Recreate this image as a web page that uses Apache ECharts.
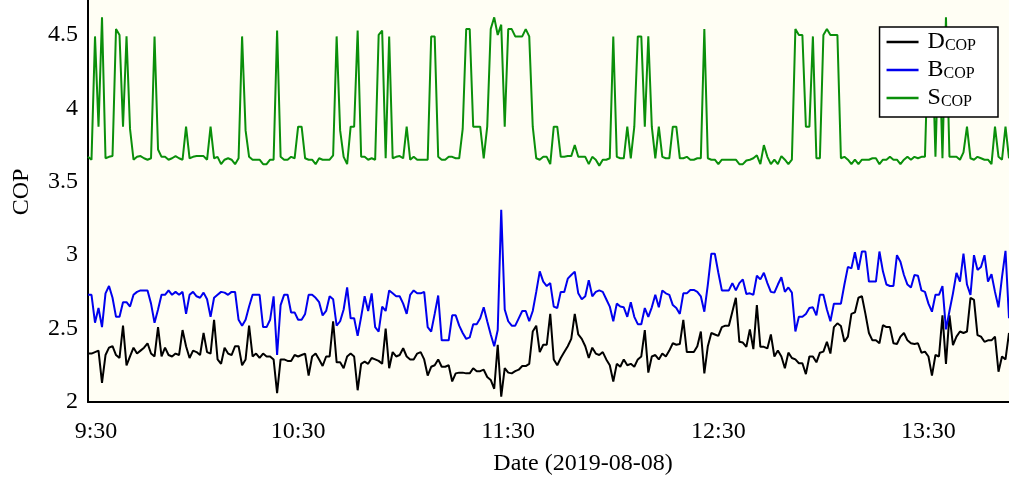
<!DOCTYPE html>
<html>
<head>
<meta charset="utf-8">
<script src="https://cdn.jsdelivr.net/npm/echarts@6/dist/echarts.min.js"></script>
<style>
  html, body { margin: 0; padding: 0; background: #ffffff; }
  #chart { width: 1009px; height: 477px; }
</style>
</head>
<body>
<div id="chart"></div>
<script>
// One sample per minute, starting at 9:30
const startMinute = 9 * 60 + 30;
const sampleCount = 264;
const times = [];
for (let i = 0; i < sampleCount; i++) {
  const t = startMinute + i;
  times.push(Math.floor(t / 60) + ':' + String(t % 60).padStart(2, '0'));
}
const tickTimes = ['9:30', '10:30', '11:30', '12:30', '13:30'];

const seriesNames = ['DCOP', 'BCOP', 'SCOP'];

const dcop = [
  2.33, 2.33, 2.34, 2.35, 2.13, 2.32, 2.37, 2.38, 2.32, 2.30,
  2.52, 2.25, 2.31, 2.37, 2.33, 2.35, 2.37, 2.40, 2.33, 2.31,
  2.51, 2.31, 2.37, 2.32, 2.31, 2.33, 2.32, 2.49, 2.38, 2.30,
  2.35, 2.34, 2.32, 2.47, 2.34, 2.33, 2.56, 2.29, 2.26, 2.37,
  2.33, 2.32, 2.38, 2.38, 2.25, 2.29, 2.52, 2.31, 2.33, 2.30,
  2.33, 2.31, 2.31, 2.29, 2.06, 2.29, 2.29, 2.28, 2.28, 2.32,
  2.31, 2.32, 2.33, 2.18, 2.31, 2.33, 2.29, 2.245, 2.31, 2.31,
  2.55, 2.27, 2.27, 2.23, 2.31, 2.33, 2.31, 2.08, 2.26, 2.275,
  2.26, 2.30, 2.29, 2.28, 2.26, 2.50, 2.23, 2.34, 2.31, 2.32,
  2.366, 2.31, 2.29, 2.29, 2.33, 2.34, 2.29, 2.18, 2.24, 2.25,
  2.29, 2.24, 2.24, 2.25, 2.14, 2.195, 2.20, 2.20, 2.195, 2.195,
  2.23, 2.21, 2.21, 2.22, 2.17, 2.15, 2.09, 2.39, 2.036, 2.23,
  2.20, 2.195, 2.21, 2.22, 2.245, 2.245, 2.26, 2.48, 2.52, 2.34,
  2.39, 2.39, 2.60, 2.29, 2.25, 2.30, 2.34, 2.38, 2.43, 2.60,
  2.46, 2.43, 2.38, 2.30, 2.37, 2.33, 2.32, 2.34, 2.29, 2.25,
  2.14, 2.26, 2.24, 2.29, 2.25, 2.26, 2.24, 2.29, 2.31, 2.49,
  2.20, 2.31, 2.32, 2.29, 2.33, 2.31, 2.35, 2.40, 2.39, 2.395,
  2.56, 2.34, 2.34, 2.34, 2.38, 2.48, 2.195, 2.38, 2.47, 2.46,
  2.45, 2.51, 2.52, 2.52, 2.615, 2.71, 2.41, 2.405, 2.376, 2.495,
  2.36, 2.66, 2.376, 2.376, 2.365, 2.46, 2.31, 2.35, 2.31, 2.23,
  2.336, 2.30, 2.29, 2.264, 2.264, 2.19, 2.31, 2.31, 2.27, 2.336,
  2.343, 2.41, 2.33, 2.51, 2.536, 2.518, 2.41, 2.445, 2.60, 2.61,
  2.71, 2.72, 2.60, 2.47, 2.42, 2.42, 2.40, 2.524, 2.51, 2.51,
  2.40, 2.395, 2.445, 2.47, 2.42, 2.40, 2.395, 2.40, 2.336, 2.343,
  2.31, 2.18, 2.32, 2.31, 2.59, 2.26, 2.59, 2.388, 2.445, 2.48,
  2.47, 2.48, 2.71, 2.695, 2.456, 2.445, 2.41, 2.42, 2.42, 2.445,
  2.206, 2.31, 2.29, 2.47
];

const bcop = [
  2.73, 2.73, 2.54, 2.64, 2.51, 2.74, 2.79, 2.71, 2.58, 2.58,
  2.68, 2.68, 2.65, 2.73, 2.75, 2.76, 2.76, 2.76, 2.67, 2.54,
  2.63, 2.73, 2.73, 2.76, 2.73, 2.75, 2.73, 2.75, 2.60, 2.73,
  2.75, 2.72, 2.71, 2.745, 2.70, 2.58, 2.71, 2.73, 2.75, 2.745,
  2.73, 2.75, 2.75, 2.56, 2.52, 2.56, 2.65, 2.73, 2.73, 2.73,
  2.51, 2.51, 2.56, 2.72, 2.32, 2.66, 2.73, 2.73, 2.61, 2.61,
  2.56, 2.56, 2.60, 2.73, 2.73, 2.71, 2.68, 2.59, 2.62, 2.72,
  2.70, 2.52, 2.55, 2.63, 2.78, 2.57, 2.57, 2.45, 2.58, 2.72,
  2.62, 2.74, 2.51, 2.48, 2.65, 2.62, 2.76, 2.74, 2.72, 2.72,
  2.67, 2.60, 2.73, 2.76, 2.74, 2.74, 2.75, 2.51, 2.48, 2.60,
  2.725, 2.42, 2.42, 2.42, 2.59, 2.59, 2.52, 2.47, 2.43, 2.44,
  2.53, 2.53, 2.57, 2.645, 2.55, 2.46, 2.38, 2.49, 3.31, 2.63,
  2.55, 2.52, 2.52, 2.57, 2.62, 2.62, 2.55, 2.62, 2.75, 2.89,
  2.82, 2.79, 2.81, 2.65, 2.64, 2.75, 2.75, 2.84, 2.865, 2.888,
  2.74, 2.70, 2.72, 2.83, 2.72, 2.75, 2.76, 2.75, 2.70, 2.65,
  2.55, 2.67, 2.65, 2.645, 2.58, 2.68, 2.58, 2.53, 2.53, 2.64,
  2.58, 2.645, 2.73, 2.645, 2.76, 2.74, 2.73, 2.66, 2.64, 2.60,
  2.74, 2.74, 2.763, 2.763, 2.75, 2.72, 2.615, 2.80, 3.01, 3.01,
  2.88, 2.76, 2.76, 2.76, 2.81, 2.76, 2.81, 2.835, 2.735, 2.74,
  2.73, 2.86, 2.835, 2.88, 2.81, 2.75, 2.745, 2.80, 2.85, 2.75,
  2.78, 2.745, 2.48, 2.58, 2.58, 2.60, 2.64, 2.645, 2.59, 2.73,
  2.73, 2.63, 2.55, 2.67, 2.67, 2.67, 2.80, 2.92, 2.91, 3.02,
  2.90, 3.025, 3.025, 2.82, 2.82, 2.82, 3.025, 2.89, 2.80, 2.79,
  2.79, 3.0, 2.955, 2.865, 2.80, 2.78, 2.865, 2.86, 2.76, 2.75,
  2.67, 2.615, 2.73, 2.73, 2.79, 2.495, 2.62, 2.74, 2.88, 2.82,
  3.01, 2.80, 2.73, 3.0, 2.90, 2.92, 3.0, 2.82, 2.87, 2.75,
  2.645, 2.85, 3.03, 2.57
];

const scop = [
  3.67, 3.65, 4.49, 3.875, 4.62, 3.66, 3.67, 3.675, 4.54, 4.50,
  3.875, 4.49, 3.86, 3.65, 3.67, 3.675, 3.66, 3.65, 3.66, 4.49,
  3.72, 3.67, 3.67, 3.65, 3.66, 3.675, 3.66, 3.65, 3.875, 3.66,
  3.67, 3.675, 3.675, 3.675, 3.65, 3.875, 3.66, 3.67, 3.62, 3.65,
  3.66, 3.65, 3.62, 3.66, 4.49, 3.85, 3.67, 3.65, 3.65, 3.65,
  3.62, 3.62, 3.65, 3.65, 4.53, 3.67, 3.65, 3.65, 3.67, 3.66,
  3.875, 3.875, 3.66, 3.65, 3.65, 3.62, 3.66, 3.65, 3.65, 3.65,
  3.68, 4.49, 3.85, 3.67, 3.62, 3.875, 3.875, 4.53, 3.67, 3.67,
  3.65, 3.66, 3.65, 4.50, 4.53, 3.66, 4.49, 3.66, 3.67, 3.675,
  3.66, 3.875, 3.65, 3.67, 3.65, 3.65, 3.65, 3.65, 4.49, 4.49,
  3.67, 3.65, 3.65, 3.67, 3.67, 3.66, 3.66, 3.86, 4.54, 4.54,
  3.875, 3.875, 3.875, 3.66, 3.875, 4.54, 4.62, 4.50, 4.57, 3.875,
  4.54, 4.54, 4.49, 4.49, 4.49, 4.54, 4.49, 3.875, 3.66, 3.65,
  3.67, 3.67, 3.62, 3.875, 3.875, 3.67, 3.67, 3.675, 3.675, 3.75,
  3.67, 3.67, 3.67, 3.62, 3.67, 3.65, 3.61, 3.65, 3.65, 3.66,
  4.49, 3.67, 3.66, 3.66, 3.875, 3.66, 3.875, 4.49, 4.49, 3.875,
  4.49, 3.875, 3.66, 3.875, 3.67, 3.66, 3.66, 3.875, 3.875, 3.66,
  3.66, 3.67, 3.65, 3.65, 3.66, 3.66, 4.54, 3.66, 3.65, 3.65,
  3.62, 3.65, 3.65, 3.65, 3.65, 3.65, 3.62, 3.62, 3.645, 3.65,
  3.66, 3.68, 3.62, 3.75, 3.67, 3.62, 3.65, 3.62, 3.675, 3.65,
  3.62, 3.65, 4.54, 4.50, 4.50, 3.875, 3.875, 4.49, 3.66, 3.66,
  4.50, 4.54, 4.50, 4.50, 4.50, 3.66, 3.67, 3.65, 3.62, 3.65,
  3.62, 3.65, 3.65, 3.65, 3.66, 3.66, 3.62, 3.65, 3.65, 3.67,
  3.65, 3.65, 3.62, 3.65, 3.67, 3.65, 3.67, 3.66, 3.67, 3.67,
  4.50, 4.50, 3.67, 4.50, 3.66, 4.62, 3.67, 3.67, 3.67, 3.65,
  3.70, 3.875, 3.66, 3.65, 3.67, 3.66, 3.65, 3.65, 3.62, 3.875,
  3.67, 3.65, 3.875, 3.66
];

const serifFont = '"Liberation Serif", "DejaVu Serif", "Times New Roman", serif';
const lineColors = ['#000000', '#0000ee', '#0a8f0a'];

const chart = echarts.init(document.getElementById('chart'), null, { renderer: 'canvas' });

chart.setOption({
  animation: false,
  backgroundColor: '#ffffff',
  grid: {
    left: 88, right: 0, top: 0, bottom: 75,
    show: true, backgroundColor: '#fffef4', borderWidth: 0
  },
  xAxis: {
    type: 'category',
    data: times,
    boundaryGap: false,
    axisLine: { show: true, lineStyle: { color: '#000', width: 2 } },
    axisTick: { show: false },
    splitLine: { show: false },
    axisLabel: {
      interval: (idx, val) => tickTimes.includes(val),
      // the first label sits a little to the right of its tick
      formatter: (val, idx) => idx === 0 ? '{first|' + val + '}' : val,
      rich: { first: { fontSize: 24, fontFamily: serifFont, color: '#000', padding: [0, 0, 0, 16] } },
      color: '#000', fontFamily: serifFont, fontSize: 24, margin: 18
    }
  },
  yAxis: {
    type: 'value',
    min: 2, max: 4.738, interval: 0.5,
    axisLine: { show: true, lineStyle: { color: '#000', width: 2 } },
    axisTick: { show: false },
    splitLine: { show: false },
    axisLabel: {
      showMaxLabel: false,
      color: '#000', fontFamily: serifFont, fontSize: 24, margin: 10
    }
  },
  legend: {
    data: seriesNames,
    orient: 'vertical',
    right: 11, top: 27,
    align: 'left',
    icon: 'rect',
    backgroundColor: '#ffffff',
    borderColor: '#000',
    borderWidth: 1.5,
    borderRadius: 0,
    padding: [3, 22, 7, 7],
    itemGap: 4,
    itemWidth: 32,
    itemHeight: 2.5,
    formatter: name => '{a|' + name.charAt(0) + '}{b|' + name.slice(1) + '}',
    textStyle: {
      color: '#000',
      fontFamily: serifFont,
      rich: {
        a: { fontSize: 24, fontFamily: serifFont, color: '#000', verticalAlign: 'bottom', padding: [0, 0, 0, 4] },
        b: { fontSize: 16, fontFamily: serifFont, color: '#000', verticalAlign: 'bottom' }
      }
    }
  },
  graphic: [
    {
      type: 'text', x: 583, y: 464,
      style: { text: 'Date (2019-08-08)', font: '24px ' + serifFont, fill: '#000',
               align: 'center', verticalAlign: 'middle', textAlign: 'center', textVerticalAlign: 'middle' }
    },
    {
      type: 'text', x: 22, y: 192, rotation: Math.PI / 2,
      style: { text: 'COP', font: '24px ' + serifFont, fill: '#000',
               align: 'center', verticalAlign: 'middle', textAlign: 'center', textVerticalAlign: 'middle' }
    }
  ],
  series: [
    { name: seriesNames[0], type: 'line', data: dcop, symbol: 'none', color: lineColors[0], lineStyle: { width: 2, color: lineColors[0] } },
    { name: seriesNames[1], type: 'line', data: bcop, symbol: 'none', color: lineColors[1], lineStyle: { width: 2, color: lineColors[1] } },
    { name: seriesNames[2], type: 'line', data: scop, symbol: 'none', color: lineColors[2], lineStyle: { width: 2, color: lineColors[2] } }
  ]
});
</script>
</body>
</html>
